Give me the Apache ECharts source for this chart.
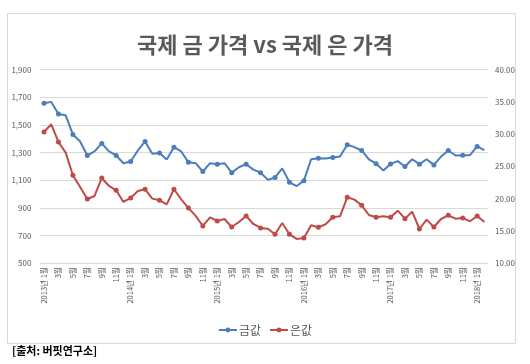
<!DOCTYPE html>
<html><head><meta charset="utf-8">
<script src="https://cdn.jsdelivr.net/npm/echarts@6/dist/echarts.min.js"></script>
<style>html,body{margin:0;padding:0;background:#fff}#c{width:530px;height:364px}</style>
</head><body><div id="c"></div>
<script>
const months = [
 "2013년 1월","2월","3월","4월","5월","6월","7월","8월","9월","10월","11월","12월",
 "2014년 1월","2월","3월","4월","5월","6월","7월","8월","9월","10월","11월","12월",
 "2015년 1월","2월","3월","4월","5월","6월","7월","8월","9월","10월","11월","12월",
 "2016년 1월","2월","3월","4월","5월","6월","7월","8월","9월","10월","11월","12월",
 "2017년 1월","2월","3월","4월","5월","6월","7월","8월","9월","10월","11월","12월",
 "2018년 1월","2월"
];
const gold = [
 1656,1666,1579,1569,1431,1380,1279,1308,1366,1308,1279,1223,1235,1315,1380,1291,
 1296,1250,1339,1308,1230,1223,1163,1223,1216,1223,1155,1194,1216,1177,1155,1103,
 1120,1186,1085,1058,1097,1252,1259,1257,1264,1271,1356,1339,1315,1250,
 1220,1170,1218,1238,1199,1252,1216,1252,1211,1271,1315,1279,1281,1281,1344,1317
];
const silver = [
 30.33,31.52,28.78,27.13,23.62,21.82,19.96,20.42,23.21,21.97,21.30,19.49,20.11,21.20,21.46,20.01,
 19.75,19.13,21.46,19.91,18.57,17.33,15.78,17.12,16.55,16.86,15.62,16.40,17.33,16.09,15.47,15.34,
 14.49,16.24,14.49,13.77,13.92,15.88,15.57,16.04,17.12,17.28,20.22,19.86,18.98,17.48,
 17.12,17.28,17.12,18.15,16.91,18.00,15.31,16.76,15.62,16.86,17.43,16.91,17.02,16.50,17.33,16.40
];
const seriesNames = ["금값","은값"];
const titleText = "국제 금 가격 vs 국제 은 가격";
const sourceText = "[출처: 버핏연구소]";

const FONT = '"Noto Sans CJK KR", "Noto Sans", sans-serif';
const chart = echarts.init(document.getElementById('c'), null, {renderer:'canvas'});
chart.setOption({
  animation:false,
  backgroundColor:'#fff',
  textStyle:{fontFamily:FONT},
  title:{text:titleText,left:'center',top:29,
    textStyle:{fontSize:22,fontWeight:'bold',color:'#595959',fontFamily:FONT}},
  graphic:[
    {type:'rect',shape:{x:7.5,y:13.5,width:508,height:330},
     style:{fill:'none',stroke:'#d9d9d9',lineWidth:1},silent:true,z:-1},
    {type:'text',left:12,top:345,
     style:{text:sourceText,fontSize:11,fontWeight:'bold',fill:'#000',fontFamily:FONT}}
  ],
  legend:{data:seriesNames,left:'center',top:319,itemWidth:18,itemHeight:6,itemGap:8,
    textStyle:{fontSize:12,color:'#595959',fontFamily:FONT,padding:[0,0,0,-3]}},
  grid:{left:40.4,right:42,top:69.5,bottom:100.7,containLabel:false},
  xAxis:{type:'category',data:months,boundaryGap:true,
    axisLine:{lineStyle:{color:'#d9d9d9'}},axisTick:{show:false},
    axisLabel:{interval:1,rotate:90,fontSize:7.5,color:'#595959',margin:4,fontFamily:FONT}},
  yAxis:[
    {type:'value',min:500,max:1900,interval:200,
     axisLine:{show:false},axisTick:{show:false},
     splitLine:{lineStyle:{color:'#d9d9d9'}},
     axisLabel:{fontSize:8,color:'#595959',margin:9,fontFamily:FONT,
       formatter:v=>v.toLocaleString('en-US')}},
    {type:'value',min:10,max:40,interval:5,position:'right',
     axisLine:{show:false},axisTick:{show:false},splitLine:{show:false},
     axisLabel:{fontSize:8,color:'#595959',margin:7,fontFamily:FONT,
       formatter:v=>v.toFixed(2)}}
  ],
  series:[
    {name:seriesNames[0],type:'line',data:gold,yAxisIndex:0,symbol:'circle',symbolSize:5,
     itemStyle:{color:'#4a7ebb'},lineStyle:{width:2,color:'#4a7ebb'}},
    {name:seriesNames[1],type:'line',data:silver,yAxisIndex:1,symbol:'circle',symbolSize:5,
     itemStyle:{color:'#be4b48'},lineStyle:{width:2,color:'#be4b48'}}
  ]
});
</script></body></html>
